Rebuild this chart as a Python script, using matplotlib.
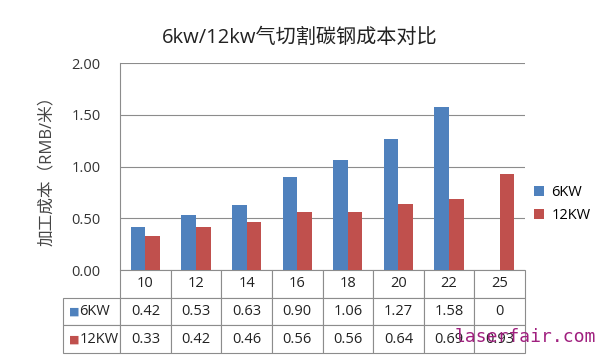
import numpy as np
import matplotlib
matplotlib.use("Agg")
import matplotlib.pyplot as plt

# data
categories = ["10", "12", "14", "16", "18", "20", "22", "25"]
cost_6kw = [0.42, 0.53, 0.63, 0.90, 1.06, 1.27, 1.58, 0]
cost_12kw = [0.33, 0.42, 0.46, 0.56, 0.56, 0.64, 0.69, 0.93]
series_names = ["6KW", "12KW"]
table_6kw = ["0.42", "0.53", "0.63", "0.90", "1.06", "1.27", "1.58", "0"]
table_12kw = ["0.33", "0.42", "0.46", "0.56", "0.56", "0.64", "0.69", "0.93"]
yticks = [0.0, 0.5, 1.0, 1.5, 2.0]

BLUE = "#4F81BD"
RED = "#C0504D"
GRID = "#8C8C8C"

plt.rcParams["font.family"] = ["Open Sans", "Noto Sans CJK SC", "DejaVu Sans"]

fig = plt.figure(figsize=(6, 3.57), dpi=100)
ax = fig.add_axes([120 / 600, 1 - 270 / 357, 405 / 600, 206.7 / 357])

x = np.arange(len(categories))
w = 0.29
ax.bar(x - w / 2, cost_6kw, w, color=BLUE, label=series_names[0], zorder=3)
ax.bar(x + w / 2, cost_12kw, w, color=RED, label=series_names[1], zorder=3)

ax.set_xlim(-0.5, len(categories) - 0.5)
ax.set_ylim(0, 2.0)
ax.set_yticks(yticks)
ax.set_yticklabels([f"{v:.2f}" for v in yticks], fontsize=10.5, color="#333333")
ax.tick_params(axis="y", length=0, pad=14)
ax.set_xticks([])
ax.yaxis.grid(True, color=GRID, linewidth=0.8, zorder=0)
for s in ["top", "right", "bottom"]:
    ax.spines[s].set_visible(False)
ax.spines["left"].set_color(GRID)
ax.spines["left"].set_linewidth(0.8)

ax.set_ylabel("加工成本（RMB/米）", fontsize=12, color="#444444", labelpad=12)

fig.text(0.5, 1 - 38 / 357, "6kw/12kw气切割碳钢成本对比", ha="center", va="center",
         fontsize=14.5, color="#222222")

# data table under the bars, first column holds the series names
lab_w = 57 / 405
col_w = 1 / len(categories)
cell_text = [[""] + categories,
             [series_names[0]] + table_6kw,
             [series_names[1]] + table_12kw]
tab_h = 83 / 206.7
tab = ax.table(cellText=cell_text, cellLoc="center",
               colWidths=[lab_w] + [col_w] * len(categories),
               bbox=[-lab_w, -tab_h, 1 + lab_w, tab_h])
tab.auto_set_font_size(False)
tab.set_fontsize(10.5)
for (r, c), cell in tab.get_celld().items():
    cell.set_edgecolor(GRID)
    cell.set_linewidth(0.8)
    cell.get_text().set_color("#222222")
    if c == 0:
        cell.get_text().set_ha("left")
        cell.PAD = 0.29
        if r == 0:
            cell.set_visible(False)
for i, color in enumerate([BLUE, RED]):
    yc = -tab_h * (i + 1.5) / 3
    ax.text(-lab_w + 6 / 405, yc, "■", color=color, fontsize=8, ha="left", va="center",
            transform=ax.transAxes, family="DejaVu Sans")

# legend on the right
ax.legend(loc="center left", bbox_to_anchor=(0.99, 0.318), frameon=False,
          fontsize=10.5, handlelength=0.7, handleheight=0.7, labelspacing=0.55,
          handletextpad=0.5)

fig.text(455 / 600, 1 - 337 / 357, "laserfair.com", family="DejaVu Sans Mono",
         fontsize=13, color="#A0207F", va="center", ha="left")

fig.savefig("out.png", dpi=100)
